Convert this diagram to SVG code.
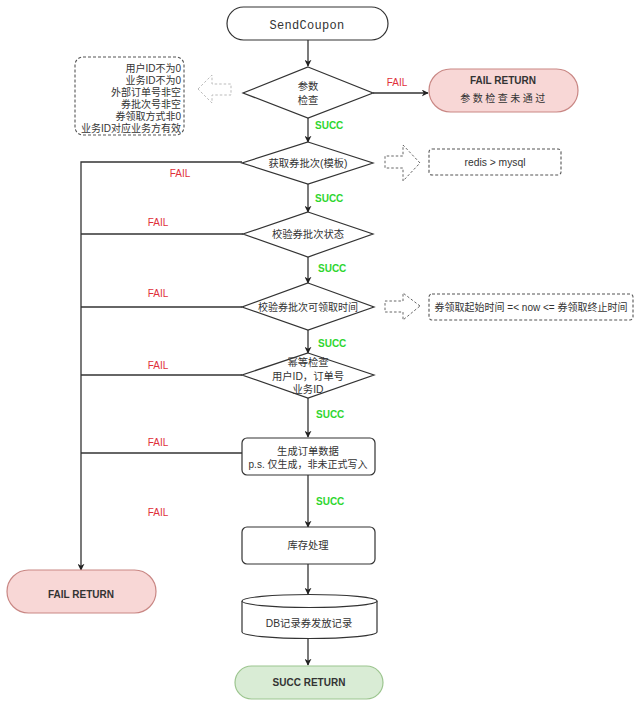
<svg xmlns="http://www.w3.org/2000/svg" width="640" height="707" viewBox="0 0 640 707">
<defs>
<style>
text{font-family:"Liberation Sans","Noto Sans CJK SC",sans-serif;fill:#333;font-size:10.3px;}
.c{text-anchor:middle;}
.r{text-anchor:end;}
.s{font-size:10px;}
.node{fill:#fff;stroke:#333;stroke-width:1.2;}
.fail{fill:#f8d7d6;stroke:#c98784;stroke-width:1.2;}
.succ{fill:#d9ecd5;stroke:#9cc58f;stroke-width:1.2;}
.edge{fill:none;stroke:#333;stroke-width:1.3;}
.fl{fill:#e0303a;font-size:10px;text-anchor:middle;}
.sl{fill:#2ed62e;font-size:10px;font-weight:bold;}
.b{font-weight:bold;font-size:10px;}
.dash{fill:none;stroke:#555;stroke-width:1.1;stroke-dasharray:3 2;}
.hol{fill:#fff;stroke:#666;stroke-width:1;stroke-dasharray:2.5 2;}
.holl{fill:#fff;stroke:#bbb;stroke-width:1;stroke-dasharray:2.5 2;}
</style>
<marker id="arr" viewBox="0 0 10 10" refX="9" refY="5" markerWidth="7" markerHeight="7" markerUnits="userSpaceOnUse" orient="auto">
<path d="M0,0 L10,5 L0,10 L3,5 Z" fill="#222"/>
</marker>
</defs>
<rect width="640" height="707" fill="#fff"/>

<g id="connectors">
<path class="edge" d="M308,40 V66" marker-end="url(#arr)"/>
<path class="edge" d="M308,118 V142" marker-end="url(#arr)"/>
<path class="edge" d="M373,93 H428" marker-end="url(#arr)"/>
<path class="edge" d="M308,184 V212" marker-end="url(#arr)"/>
<path class="edge" d="M308,257 V283" marker-end="url(#arr)"/>
<path class="edge" d="M308,330 V353" marker-end="url(#arr)"/>
<path class="edge" d="M308,398 V437" marker-end="url(#arr)"/>
<path class="edge" d="M308,475 V527" marker-end="url(#arr)"/>
<path class="edge" d="M308,564 V594" marker-end="url(#arr)"/>
<path class="edge" d="M308,638 V665" marker-end="url(#arr)"/>
<path class="edge" d="M242,162 H81 V570" marker-end="url(#arr)"/>
<path class="edge" d="M243,234 H81"/>
<path class="edge" d="M242,307 H81"/>
<path class="edge" d="M242,375 H81"/>
<path class="edge" d="M242,453 H81"/>
<text class="fl" x="397" y="86">FAIL</text>
<text class="fl" x="180" y="177">FAIL</text>
<text class="fl" x="158" y="226">FAIL</text>
<text class="fl" x="158" y="297">FAIL</text>
<text class="fl" x="158" y="369">FAIL</text>
<text class="fl" x="158" y="446">FAIL</text>
<text class="fl" x="158" y="516">FAIL</text>
<text class="sl" x="315" y="129">SUCC</text>
<text class="sl" x="315" y="202">SUCC</text>
<text class="sl" x="318" y="272">SUCC</text>
<text class="sl" x="318" y="347">SUCC</text>
<text class="sl" x="316" y="418">SUCC</text>
<text class="sl" x="316" y="505">SUCC</text>
</g>

<g id="start">
<rect class="node" x="227" y="7" width="161" height="33" rx="16.5"/>
<text class="c" x="307" y="28.5" style="font-family:'Liberation Mono','DejaVu Sans Mono',monospace;font-size:12px;letter-spacing:0.3px">SendCoupon</text>
</g>

<g id="check-params">
<path class="node" d="M308,67 L373,93 L308,118 L243,93 Z"/>
<text class="c" x="308" y="90">参数</text>
<text class="c" x="308" y="104">检查</text>
</g>

<g id="param-notes">
<rect class="dash" x="75" y="57" width="109" height="78" rx="8"/>
<text class="r s" x="181" y="72">用户ID不为0</text>
<text class="r s" x="181" y="84">业务ID不为0</text>
<text class="r s" x="181" y="96">外部订单号非空</text>
<text class="r s" x="181" y="108">券批次号非空</text>
<text class="r s" x="181" y="120">券领取方式非0</text>
<text class="r s" x="181" y="132">业务ID对应业务方有效</text>
</g>
<g id="arrow-left-hollow">
<path class="holl" d="M198,89 L212,75 L212,84 L231,84 L231,95 L212,95 L212,103 Z"/>
</g>

<g id="fail-return-params">
<rect class="fail" x="429" y="69" width="149" height="43" rx="21.5"/>
<text class="c b" x="503" y="84">FAIL RETURN</text>
<text class="c" x="504" y="102" style="letter-spacing:2.5px;font-size:10px">参数检查未通过</text>
</g>

<g id="get-batch">
<path class="node" d="M308,142 L373,163 L308,184 L242,163 Z"/>
<text class="c" x="308" y="167">获取券批次(模板)</text>
</g>
<g id="arrow-redis">
<path class="hol" d="M420,163 L403,145 L403,156 L385,156 L385,168 L403,168 L403,181 Z"/>
</g>
<g id="redis-note">
<rect class="dash" x="429" y="149" width="132" height="26" rx="3"/>
<text class="c" x="495" y="166">redis &gt; mysql</text>
</g>

<g id="check-batch-status">
<path class="node" d="M308,212 L373,234 L308,257 L243,234 Z"/>
<text class="c" x="308" y="238">校验券批次状态</text>
</g>

<g id="check-batch-time">
<path class="node" d="M308,283 L374,307 L308,330 L242,307 Z"/>
<text class="c s" x="308" y="311">校验券批次可领取时间</text>
</g>
<g id="arrow-time">
<path class="hol" d="M420,306 L403,293 L403,301 L385,301 L385,312 L403,312 L403,320 Z"/>
</g>
<g id="time-note">
<rect class="dash" x="429" y="294" width="204" height="26" rx="3"/>
<text class="c s" x="531" y="311">券领取起始时间 =&lt; now &lt;= 券领取终止时间</text>
</g>

<g id="idempotent">
<path class="node" d="M308,353 L374,375 L308,398 L242,375 Z"/>
<text class="c" x="308" y="366">幂等检查</text>
<text class="c" x="308" y="380">用户ID，订单号</text>
<text class="c" x="308" y="393">业务ID</text>
</g>

<g id="gen-order">
<rect class="node" x="242" y="438" width="133" height="37" rx="5"/>
<text class="c" x="308" y="455">生成订单数据</text>
<text class="c s" x="308" y="468">p.s. 仅生成，非未正式写入</text>
</g>

<g id="stock">
<rect class="node" x="242" y="527" width="133" height="37" rx="5"/>
<text class="c" x="308" y="549">库存处理</text>
</g>

<g id="fail-return">
<rect class="fail" x="7" y="570" width="149" height="43" rx="21.5"/>
<text class="c b" x="81" y="598">FAIL RETURN</text>
</g>

<g id="db-record">
<path class="node" d="M242,601 A67.5,6.5 0 0 1 377,601 V632 A67.5,6.5 0 0 1 242,632 Z"/>
<path class="node" d="M242,601 A67.5,6.5 0 0 0 377,601" fill="none"/>
<text class="c" x="309" y="627">DB记录券发放记录</text>
</g>

<g id="succ-return">
<rect class="succ" x="235" y="666" width="148" height="33" rx="16.5"/>
<text class="c b" x="309" y="686">SUCC RETURN</text>
</g>
</svg>
